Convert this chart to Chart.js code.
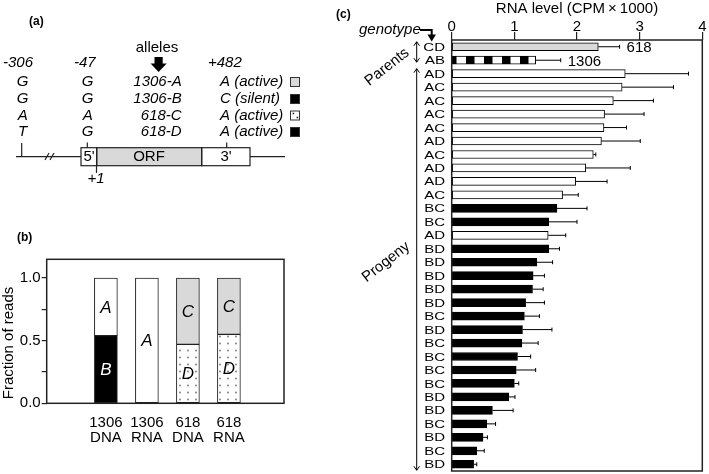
<!DOCTYPE html>
<html>
<head>
<meta charset="utf-8">
<script src="https://cdn.jsdelivr.net/npm/chart.js@4.4.1/dist/chart.umd.min.js"></script>
<style>
  body { margin: 0; background: #fff; }
  #wrap { position: relative; width: 709px; height: 474px; overflow: hidden; background: #fff; }
  canvas { position: absolute; }
</style>
</head>
<body>
<div id="wrap">
  <canvas id="panelA" width="360" height="195" style="left:0;top:0"></canvas>
  <canvas id="panelB" width="300" height="250" style="left:0;top:200px"></canvas>
  <canvas id="panelC" width="369" height="474" style="left:340px;top:0"></canvas>
</div>
<script>
// ---- panel (a): allele table
const snp306 = ['G', 'G', 'A', 'T'];
const snp47 = ['G', 'G', 'A', 'G'];
const alleleNames = ['1306-A', '1306-B', '618-C', '618-D'];
const snp482 = ['A (active)', 'C (silent)', 'A (active)', 'A (active)'];

// ---- panel (b): fraction of reads
const readSamples = [['1306', 'DNA'], ['1306', 'RNA'], ['618', 'DNA'], ['618', 'RNA']];
const lowerFraction = [0.54, null, 0.47, 0.55];
const upperFraction = [0.46, 1.0, 0.53, 0.45];
const lowerAllele = ['B', '', 'D', 'D'];
const upperAllele = ['A', 'A', 'C', 'C'];
const fractionTicks = [0, 0.25, 0.5, 0.75, 1.0];

// ---- panel (c): RNA level per genotype
const genotypes = ['CD', 'AB', 'AD', 'AC', 'AC', 'AC', 'AC', 'AD', 'AC', 'AD', 'AD', 'AC', 'BC', 'BC', 'AD', 'BD',
  'BD', 'BD', 'BD', 'BD', 'BC', 'BD', 'BC', 'BC', 'BC', 'BC', 'BD', 'BD', 'BC', 'BD', 'BC', 'BD'];
const rnaLevel = [2.34, 1.34, 2.77, 2.72, 2.58, 2.44, 2.43, 2.39, 2.26, 2.14, 1.98, 1.77, 1.68, 1.55, 1.54, 1.55,
  1.36, 1.30, 1.29, 1.18, 1.16, 1.13, 1.12, 1.05, 1.03, 1.00, 0.91, 0.65, 0.56, 0.50, 0.40, 0.35];
const rnaErr = [0.34, 0.40, 1.01, 0.82, 0.64, 0.63, 0.36, 0.62, 0.04, 0.71, 0.50, 0.25, 0.48, 0.45, 0.28, 0.17,
  0.25, 0.18, 0.17, 0.30, 0.24, 0.47, 0.26, 0.21, 0.31, 0.07, 0.10, 0.33, 0.14, 0.07, 0.12, 0.05];
const parentNames = ['618', '1306'];
const rnaTicks = [0, 1, 2, 3, 4];

const FONT = '"Liberation Sans", Arial, Helvetica, sans-serif';
const GREY = '#d9d9d9';
Chart.defaults.font.family = FONT;
Chart.defaults.color = '#000';

// patterns
function checkerPattern() {
  const c = document.createElement('canvas');
  c.width = 18; c.height = 8;
  const g = c.getContext('2d');
  g.fillStyle = '#fff'; g.fillRect(0, 0, 18, 8);
  g.fillStyle = '#000'; g.fillRect(0, 0, 8.5, 8);
  return g.createPattern(c, 'repeat');
}
function dotPattern() {
  const c = document.createElement('canvas');
  c.width = 8; c.height = 7;
  const g = c.getContext('2d');
  g.fillStyle = '#fff'; g.fillRect(0, 0, 8, 7);
  g.fillStyle = '#777';
  g.beginPath(); g.arc(4, 3.5, 0.9, 0, Math.PI * 2); g.fill();
  return g.createPattern(c, 'repeat');
}
const checker = checkerPattern();
const dots = dotPattern();

const boxPlugin = {
  id: 'box',
  afterDraw(chart) {
    const { ctx, chartArea: a } = chart;
    ctx.save();
    ctx.strokeStyle = '#222';
    ctx.lineWidth = 1.5;
    ctx.strokeRect(a.left, a.top, a.right - a.left, a.bottom - a.top);
    ctx.restore();
  }
};

// ---------------- panel (a) ----------------
function drawPanelA() {
  const ctx = document.getElementById('panelA').getContext('2d');
  ctx.fillStyle = '#000';
  ctx.strokeStyle = '#000';
  ctx.textBaseline = 'middle';
  ctx.font = 'bold 12px ' + FONT;
  ctx.fillText('(a)', 29, 22);
  ctx.fillText('(c)', 336, 15);

  ctx.font = '15px ' + FONT;
  ctx.textAlign = 'center';
  ctx.fillText('alleles', 157, 48);
  // thick down arrow
  ctx.beginPath();
  ctx.moveTo(154.5, 57); ctx.lineTo(162.7, 57); ctx.lineTo(162.7, 63.5); ctx.lineTo(166.7, 63.5);
  ctx.lineTo(158.6, 72); ctx.lineTo(150.6, 63.5); ctx.lineTo(154.5, 63.5); ctx.closePath();
  ctx.fill();

  ctx.font = 'italic 15px ' + FONT;
  ctx.textAlign = 'left';
  ctx.fillText('-306', 3, 63);
  ctx.fillText('-47', 74, 63);
  ctx.fillText('+482', 208, 63);

  const rowY = [82, 99, 115.5, 132];
  rowY.forEach((y, i) => {
    ctx.textAlign = 'center';
    ctx.fillText(snp306[i], 22.7, y);
    ctx.fillText(snp47[i], 87.7, y);
    ctx.textAlign = 'right';
    ctx.fillText(alleleNames[i], 181.7, y);
    ctx.textAlign = 'left';
    ctx.fillText(snp482[i], 220, y);
  });
  // swatches
  const sw = [GREY, '#000', 'dots', '#000'];
  rowY.forEach((y, i) => {
    const x0 = 290, y0 = y - 5;
    if (sw[i] === 'dots') {
      ctx.fillStyle = '#fff'; ctx.fillRect(x0, y0, 10, 10);
      ctx.fillStyle = '#222';
      ctx.fillRect(292.6, y0 + 2.2, 1.6, 1.6);
      ctx.fillRect(296.6, y0 + 6.2, 1.6, 1.6);
    } else {
      ctx.fillStyle = sw[i]; ctx.fillRect(x0, y0, 10, 10);
    }
    ctx.strokeStyle = '#333'; ctx.lineWidth = 1;
    ctx.strokeRect(x0 + 0.5, y0 + 0.5, 9, 9);
  });

  // gene model
  ctx.fillStyle = '#000';
  ctx.strokeStyle = '#222';
  ctx.lineWidth = 1.2;
  ctx.beginPath();
  ctx.moveTo(16, 156.7); ctx.lineTo(285, 156.7);
  ctx.moveTo(21.7, 143); ctx.lineTo(21.7, 156.7);
  ctx.moveTo(45, 160); ctx.lineTo(49, 153);
  ctx.moveTo(50, 160); ctx.lineTo(54, 153);
  ctx.moveTo(87.3, 142.5); ctx.lineTo(87.3, 148);
  ctx.moveTo(226.7, 142.5); ctx.lineTo(226.7, 148);
  ctx.moveTo(96.5, 165.7); ctx.lineTo(96.5, 173);
  ctx.stroke();
  ctx.fillStyle = '#fff'; ctx.fillRect(81, 147.7, 15.7, 18);
  ctx.fillStyle = GREY; ctx.fillRect(96.7, 147.7, 105, 18);
  ctx.fillStyle = '#fff'; ctx.fillRect(201.7, 147.7, 48.3, 18);
  ctx.strokeRect(81, 147.7, 15.7, 18);
  ctx.strokeRect(96.7, 147.7, 105, 18);
  ctx.strokeRect(201.7, 147.7, 48.3, 18);
  ctx.fillStyle = '#000';
  ctx.font = '15px ' + FONT;
  ctx.textAlign = 'center';
  ctx.fillText("5'", 89, 157);
  ctx.fillText('ORF', 149, 157);
  ctx.fillText("3'", 226, 157);
  ctx.font = 'italic 15px ' + FONT;
  ctx.fillText('+1', 96, 178.5);
}
drawPanelA();

// ---------------- panel (b) ----------------
const annotB = {
  id: 'annotB',
  afterDraw(chart) {
    const { ctx } = chart;
    ctx.save();
    ctx.fillStyle = '#000';
    ctx.textBaseline = 'middle';
    ctx.font = 'bold 12px ' + FONT;
    ctx.textAlign = 'left';
    ctx.fillText('(b)', 17, 37.5);
    // y title
    ctx.font = '15px ' + FONT;
    ctx.textAlign = 'center';
    ctx.save();
    ctx.translate(8.5, 143);
    ctx.rotate(-Math.PI / 2);
    ctx.fillText('Fraction of reads', 0, 0);
    ctx.restore();
    // allele letters inside the segments
    ctx.font = 'italic 17px ' + FONT;
    [lowerAllele, upperAllele].forEach((letters, d) => {
      chart.getDatasetMeta(d).data.forEach((bar, i) => {
        if (!letters[i]) return;
        const { x, y, base } = bar.getProps(['x', 'y', 'base'], true);
        ctx.fillStyle = letters[i] === 'B' ? '#fff' : '#000';
        ctx.fillText(letters[i], x, (y + base) / 2 + 1);
      });
    });
    ctx.restore();
  }
};

new Chart(document.getElementById('panelB'), {
  type: 'bar',
  data: {
    datasets: [
      {
        data: lowerFraction.map((v, i) => ({ x: i, y: v })),
        backgroundColor: ['#000', '#fff', dots, dots],
        borderColor: '#222', borderWidth: 1, borderSkipped: false,
        barThickness: 23, grouped: false
      },
      {
        data: upperFraction.map((v, i) => ({ x: i, y: v })),
        backgroundColor: ['#fff', '#fff', GREY, GREY],
        borderColor: '#222', borderWidth: 1, borderSkipped: false,
        barThickness: 23, grouped: false
      }
    ]
  },
  options: {
    responsive: false,
    animation: false,
    layout: { padding: { left: 0, right: 16, top: 59.3, bottom: 0 } },
    plugins: { legend: { display: false }, tooltip: { enabled: false } },
    scales: {
      x: {
        type: 'linear', min: -0.72, max: 3.62,
        afterBuildTicks: s => { s.ticks = readSamples.map((_, i) => ({ value: i })); },
        ticks: {
          callback: v => readSamples[v],
          font: { size: 15, lineHeight: 1 }, padding: 4, maxRotation: 0, autoSkip: false
        },
        grid: { display: false },
        border: { display: false },
        afterFit: s => { s.height = 46.7; }
      },
      y: {
        stacked: true, min: 0, max: 1.15,
        afterBuildTicks: s => { s.ticks = fractionTicks.map(v => ({ value: v })); },
        ticks: {
          callback: v => (Math.abs(v * 2 - Math.round(v * 2)) < 1e-6 ? v.toFixed(1) : ''),
          font: { size: 15 }, padding: 1
        },
        grid: { drawOnChartArea: false, drawTicks: true, tickLength: 5, color: '#222', lineWidth: 1.2 },
        border: { display: false },
        afterFit: s => { s.width = 46.7; }
      }
    }
  },
  plugins: [boxPlugin, annotB]
});

// ---------------- panel (c) ----------------
function genotypeFill(g) {
  if (g === 'CD') return GREY;
  if (g === 'AB') return checker;
  return g[0] === 'B' ? '#000' : '#fff';
}

function vArrow(ctx, x, y0, y1) {
  ctx.beginPath();
  ctx.moveTo(x, y0); ctx.lineTo(x, y1);
  ctx.moveTo(x - 2.8, y0 + 4); ctx.lineTo(x, y0); ctx.lineTo(x + 2.8, y0 + 4);
  ctx.moveTo(x - 2.8, y1 - 4); ctx.lineTo(x, y1); ctx.lineTo(x + 2.8, y1 - 4);
  ctx.stroke();
}

const errPlugin = {
  id: 'errbars',
  afterDatasetsDraw(chart) {
    const { ctx, scales: { x } } = chart;
    ctx.save();
    ctx.strokeStyle = '#000';
    ctx.lineWidth = 1;
    chart.getDatasetMeta(0).data.forEach((bar, i) => {
      const x0 = x.getPixelForValue(rnaLevel[i]);
      const x1 = x.getPixelForValue(rnaLevel[i] + rnaErr[i]);
      const y = bar.y;
      ctx.beginPath();
      ctx.moveTo(x0, y); ctx.lineTo(x1, y);
      ctx.moveTo(x1, y - 2); ctx.lineTo(x1, y + 2);
      ctx.stroke();
      if (parentNames[i]) {
        ctx.fillStyle = '#000';
        ctx.font = '15px ' + FONT;
        ctx.textAlign = 'left';
        ctx.textBaseline = 'middle';
        ctx.fillText(parentNames[i], x1 + 7, y + 1.5);
      }
    });
    ctx.restore();
  }
};

const annotC = {
  id: 'annotC',
  afterDraw(chart) {
    const { ctx, chartArea: a, scales: { y } } = chart;
    ctx.save();
    ctx.fillStyle = '#000';
    ctx.strokeStyle = '#000';
    // genotype labels (squat, as in the figure)
    ctx.font = '15px ' + FONT;
    ctx.textAlign = 'right';
    ctx.textBaseline = 'middle';
    genotypes.forEach((g, i) => {
      ctx.save();
      ctx.translate(a.left - 6.7, y.getPixelForValue(i) + 1);
      ctx.scale(1, 0.74);
      ctx.fillText(g, 0, 0);
      ctx.restore();
    });
    // genotype + bent arrow
    ctx.font = 'italic 15px ' + FONT;
    ctx.textAlign = 'left';
    ctx.fillText('genotype', 19, 30);
    ctx.lineWidth = 2;
    ctx.beginPath();
    ctx.moveTo(80, 30); ctx.lineTo(91.7, 30); ctx.lineTo(91.7, 35);
    ctx.stroke();
    ctx.beginPath();
    ctx.moveTo(87.5, 34.5); ctx.lineTo(96, 34.5); ctx.lineTo(91.7, 41.5); ctx.closePath();
    ctx.fill();
    // group arrows
    ctx.lineWidth = 1;
    const ax = a.left - 35;
    vArrow(ctx, ax, y.getPixelForValue(0) - 5, y.getPixelForValue(1) + 2);
    vArrow(ctx, ax, y.getPixelForValue(2) - 5, y.getPixelForValue(genotypes.length - 1) + 6);
    // rotated group names
    ctx.font = '15px ' + FONT;
    ctx.textAlign = 'center';
    [['Parents', 47, 67], ['Progeny', 46, 262]].forEach(([t, tx, ty]) => {
      ctx.save();
      ctx.translate(tx, ty);
      ctx.rotate(-38 * Math.PI / 180);
      ctx.fillText(t, 0, 0);
      ctx.restore();
    });
    ctx.restore();
  }
};

new Chart(document.getElementById('panelC'), {
  type: 'bar',
  data: {
    labels: genotypes,
    datasets: [{
      data: rnaLevel,
      backgroundColor: genotypes.map(genotypeFill),
      borderColor: '#000',
      borderWidth: 1,
      borderSkipped: false,
      barThickness: 8
    }]
  },
  options: {
    indexAxis: 'y',
    responsive: false,
    animation: false,
    layout: { padding: { left: 0, right: 6.7, top: 0, bottom: 3 } },
    plugins: { legend: { display: false }, tooltip: { enabled: false } },
    scales: {
      x: {
        position: 'top', min: 0, max: 4,
        afterBuildTicks: s => { s.ticks = rnaTicks.map(v => ({ value: v })); },
        ticks: { font: { size: 15, lineHeight: 1 }, padding: -2, maxRotation: 0 },
        grid: { drawOnChartArea: false, drawTicks: true, tickLength: 8, color: '#222', lineWidth: 1.2 },
        border: { display: false },
        title: { display: true, text: 'RNA level (CPM\u2009×\u20091000)', font: { size: 15 }, padding: 0 },
        afterFit: s => { s.height = 40; }
      },
      y: {
        ticks: { display: false },
        grid: { display: false },
        border: { display: false },
        afterFit: s => { s.width = 111.7; }
      }
    }
  },
  plugins: [boxPlugin, errPlugin, annotC]
});
</script>
</body>
</html>
